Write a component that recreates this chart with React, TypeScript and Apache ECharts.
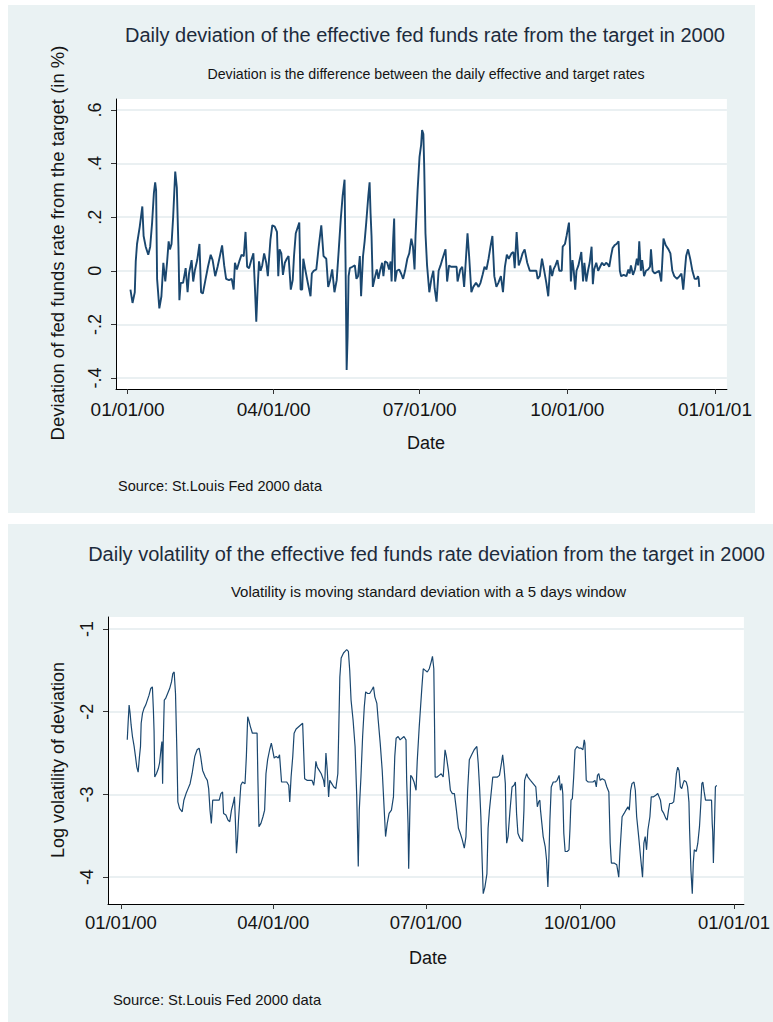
import React, { useEffect, useRef } from 'react';
import * as echarts from 'echarts';

const FONT = '"Liberation Sans", Arial, Helvetica, sans-serif';
const BG = '#eaf2f3';
const NAVY = '#1a476f';
const GRIDLINE = '#e3ebee';
const TITLE_COLOR = '#1d2b3c';
const TEXT = '#141414';

// x axis ticks (days since 01/01/2000)
const xTickDays = [0, 91, 182, 274, 366];
const xTickLabels = ['01/01/00', '04/01/00', '07/01/00', '10/01/00', '01/01/01'];

// top chart: deviation (in %)
const devYTicks = [-0.4, -0.2, 0, 0.2, 0.4, 0.6];
const devYLabels = ['-.4', '-.2', '0', '.2', '.4', '.6'];

const devDays = [
  1.8, 3.1, 4.5, 5.1, 5.9, 7.6, 9.2, 10.0, 11.3, 12.9,
  14.1, 15.3, 16.4, 17.2, 17.8, 18.4, 19.8, 21.1, 22.3, 23.5,
  24.6, 25.6, 26.4, 27.4, 28.4, 29.7, 30.7, 31.7, 32.3, 33.1,
  34.6, 36.2, 37.4, 38.3, 39.9, 40.9, 41.9, 43.4, 44.8, 45.8,
  46.9, 48.5, 50.1, 51.8, 53.0, 54.6, 56.1, 57.7, 58.9, 60.2,
  61.4, 63.2, 64.9, 66.1, 66.9, 68.1, 69.6, 71.0, 72.4, 73.5,
  74.5, 75.7, 77.1, 78.4, 79.4, 80.2, 81.0, 81.9, 82.9, 83.9,
  85.1, 86.4, 87.4, 88.4, 89.0, 90.2, 91.7, 93.1, 93.9, 94.7,
  95.8, 96.8, 98.0, 99.2, 100.3, 101.7, 102.9, 103.7, 104.8,
  107.0, 107.8, 108.8, 109.5, 110.7, 112.3, 114.0, 114.8, 116.0, 117.6,
  119.1, 120.7, 122.1, 123.8, 125.0, 126.2, 127.5, 128.9, 130.3, 131.6,
  132.8, 134.0, 135.2, 135.9, 136.5, 137.1, 137.7, 138.5, 140.1, 141.6,
  142.6, 143.6, 144.7, 145.5, 146.7, 147.7, 148.7, 150.0, 150.8, 151.4,
  152.0, 152.8, 153.9, 155.3, 156.3, 157.3, 158.6, 159.4, 160.4, 161.8,
  162.9, 163.9, 164.5, 165.5, 166.1, 166.7, 167.8, 169.2, 170.4, 171.7,
  172.9, 174.3, 175.5, 176.8, 177.8, 178.8, 179.4, 180.7, 181.9, 182.9,
  183.5, 184.3, 184.8, 185.6, 186.6, 188.0, 189.3, 190.5, 191.3, 192.5,
  193.8, 195.0, 196.2, 198.1, 199.1, 200.3, 201.5, 203.2, 205.0, 205.6,
  207.3, 208.5, 209.7, 210.5, 211.8, 212.8, 214.2, 215.4, 217.1, 218.7,
  219.9, 221.2, 222.4, 223.6, 224.9, 226.1, 227.3, 228.5, 229.8, 231.0,
  232.6, 233.9, 235.1, 236.3, 237.5, 239.2, 240.4, 241.2, 242.4, 243.7,
  244.9, 246.1, 247.4, 249.0, 250.6,
  253.1, 254.7, 255.5, 256.8, 258.2, 259.6, 260.9, 262.1, 263.3, 264.5,
  265.4, 266.6, 267.8, 269.0, 270.5, 271.1, 272.5, 273.5, 275.0, 275.6,
  276.2, 277.2, 278.0, 278.9, 279.7, 280.9, 282.7, 283.8, 284.6, 285.8,
  287.0, 287.9, 289.1, 289.9, 290.7, 292.0, 293.2, 294.4, 295.6, 296.9,
  298.1, 299.1, 300.1, 301.2, 302.2, 303.4, 304.6, 305.9, 306.7, 307.5,
  309.1, 310.8, 312.0, 312.8, 313.6, 314.9, 316.1, 317.3, 318.1, 318.8,
  319.8, 320.6, 321.8, 323.0, 324.3, 325.5, 326.1, 327.1, 328.4, 329.8,
  331.2, 332.5, 333.9, 335.3, 337.0, 338.2, 339.4, 340.6, 342.3, 343.9,
  345.1, 346.2, 347.2, 348.0, 349.2, 350.7, 351.9, 353.3, 354.6, 355.4,
  355.8, 356.2,
];
const devValues = [
  -0.07, -0.12, -0.08, 0.035, 0.10, 0.165, 0.24, 0.13, 0.09, 0.06,
  0.09, 0.18, 0.29, 0.33, 0.30, -0.03, -0.14, -0.095, 0.03, -0.04,
  0.03, 0.11, 0.08, 0.10, 0.20, 0.37, 0.31, 0.09, -0.11, -0.045,
  -0.045, 0.01, -0.08, -0.01, 0.04, -0.04, 0.0, 0.04, 0.10, -0.08,
  -0.085, -0.035, 0.015, 0.06, 0.04, -0.02, 0.015, 0.06, 0.095, 0.02,
  -0.03, -0.035, -0.03, -0.07, 0.03, 0.005, 0.035, 0.06, 0.055, 0.145,
  0.015, 0.01, 0.04, 0.065, -0.07, -0.19, -0.07, 0.035, 0.0, 0.02,
  0.065, 0.03, -0.02, 0.065, 0.115, 0.17, 0.165, 0.145, -0.02, 0.08,
  0.065, -0.015, 0.03, 0.045, 0.055, -0.07, -0.035, 0.055, 0.14,
  0.18, -0.07, -0.07, 0.045, 0.005, -0.045, -0.095, -0.01, 0.0, 0.005,
  0.09, 0.17, 0.055, 0.045, -0.06, -0.035, 0.005, -0.08, -0.035, 0.08,
  0.19, 0.28, 0.34, -0.015, -0.37, -0.245, -0.02, 0.01, 0.015, 0.02,
  -0.03, -0.02, 0.055, -0.095, 0.055, 0.11, 0.18, 0.28, 0.33, 0.215,
  0.13, -0.06, -0.03, 0.005, -0.03, 0.0, 0.03, -0.02, 0.035, 0.03,
  0.005, 0.035, -0.04, 0.12, 0.195, -0.04, 0.0, 0.005, -0.01, -0.03,
  0.0, 0.045, 0.065, 0.12, 0.09, 0.005, 0.13, 0.30, 0.425, 0.47,
  0.525, 0.51, 0.395, 0.14, 0.02, -0.08, -0.03, 0.0, -0.065, -0.115,
  0.0, 0.02, 0.045, 0.08, -0.04, 0.02, 0.015, 0.015, 0.015, -0.04,
  0.005, 0.015, -0.06, 0.015, 0.14, 0.055, -0.08, -0.06, -0.045, -0.06,
  -0.045, -0.015, 0.015, 0.005, 0.045, 0.09, 0.13, -0.02, -0.06, -0.045,
  -0.02, -0.08, 0.015, 0.06, 0.045, 0.065, 0.07, 0.01, 0.145, 0.02,
  0.04, 0.065, 0.08, 0.03, 0.0,
  0.0, 0.0, -0.03, -0.02, 0.045, 0.0, -0.045, -0.095, 0.02, -0.02,
  0.005, 0.02, 0.04, 0.0, 0.0, 0.09, 0.10, 0.13, 0.18, 0.09,
  -0.04, 0.04, 0.0, -0.07, 0.0, 0.02, 0.07, -0.04, 0.03, -0.04,
  0.005, 0.03, 0.09, -0.05, 0.005, 0.03, 0.0, 0.015, 0.03, 0.02,
  0.03, 0.025, 0.015, 0.055, 0.085, 0.095, 0.10, 0.11, 0.0, -0.02,
  -0.015, -0.02, 0.005, -0.01, 0.02, -0.015, 0.005, 0.045, 0.02, 0.11,
  0.0, 0.04, -0.02, 0.0, 0.005, 0.015, 0.08, 0.0, -0.01, -0.005,
  0.0, -0.04, 0.12, 0.095, 0.08, 0.065, 0.0, -0.02, -0.03, -0.02,
  -0.01, -0.07, 0.0, 0.055, 0.08, 0.04, 0.0, -0.03, -0.03, -0.02,
  -0.03, -0.06,
];

// bottom chart: log volatility
const volYTicks = [-4, -3, -2, -1];
const volYLabels = ['-4', '-3', '-2', '-1'];

const volDays = [
  3.8, 4.3, 4.9, 5.5, 6.1, 6.9, 7.9, 8.7, 9.5, 10.3,
  11.1, 11.7, 12.1, 12.9, 13.8, 14.8, 15.8, 16.8, 17.8, 18.8,
  19.4, 19.8, 20.2, 21.2, 22.3, 23.1, 23.9, 24.5, 24.9, 25.3,
  25.9, 26.7, 27.9, 29.1, 30.2, 31.0, 31.8, 32.6, 33.4, 34.0,
  35.0, 36.6, 37.6, 38.9, 40.1, 41.3, 42.5, 44.1, 45.5, 46.7,
  47.6, 48.8, 50.4, 51.6, 52.4, 53.2, 54.0, 54.8, 56.1, 58.7,
  59.7, 60.7, 61.3, 62.7, 63.9, 65.0, 66.0, 67.0, 67.8, 68.4,
  69.0, 69.6, 70.2, 71.0, 71.6, 72.6, 74.1, 74.9, 75.7, 76.3,
  77.3, 78.5, 81.3, 81.8, 82.4, 83.6, 84.8, 85.8, 86.6, 87.6,
  88.8, 89.8, 90.4, 91.5, 92.7, 93.9, 94.7, 95.9, 97.5, 99.0,
  100.2, 100.8, 101.6, 102.6, 103.4, 104.6,
  108.5, 109.7, 111.1, 114.1, 115.1, 115.7, 116.4, 117.2, 118.4, 119.6,
  121.0, 121.6, 122.4, 123.2, 124.0, 124.7, 125.9, 127.1, 128.3, 129.5,
  130.1, 130.7, 131.5, 132.9, 133.8, 134.8, 135.8, 136.6, 137.4, 138.6,
  139.8, 140.8, 141.7, 142.3, 143.3, 144.3, 145.3, 146.1, 147.3, 148.5,
  149.7, 150.8, 151.6, 152.8, 153.6, 154.8, 156.0, 157.2, 158.0, 159.0,
  160.1, 161.5, 162.7, 163.5, 164.3, 165.5, 166.7, 167.8, 169.0, 170.2,
  170.6, 171.4, 171.8, 172.4, 173.0, 173.8, 175.0, 176.2, 176.9, 178.1,
  178.9, 179.7, 180.5, 181.7, 182.9, 184.1, 185.2, 186.0, 186.8, 187.2,
  187.6, 188.8, 190.0, 191.2, 192.4, 193.5, 194.3, 195.5, 196.7, 197.9,
  199.1, 200.3, 201.5, 202.6, 203.8, 205.0, 206.0, 207.0, 208.0, 209.4,
  210.9, 212.5, 213.3, 214.1, 214.9, 215.7, 216.3, 217.3, 218.5, 219.2,
  220.0, 220.8, 222.0, 224.8, 226.0, 227.2, 227.9, 228.7, 229.5, 229.9,
  230.3, 231.1, 232.3, 233.5, 234.7, 235.5, 236.2, 237.0, 238.2, 239.8,
  240.6, 241.0, 242.2, 243.0, 244.5, 246.1, 247.7,
  248.6, 249.4, 250.1, 250.5, 251.3, 252.1, 253.3, 254.1, 254.9, 255.5,
  256.1, 256.9, 258.1, 259.4, 260.4, 261.6, 262.4, 263.2, 263.8, 264.4,
  265.2, 266.4, 267.5, 268.1, 268.7, 269.5, 270.3, 271.1, 272.3, 273.5,
  274.7, 275.8, 276.6, 277.0, 277.8, 279.0, 280.2, 281.8, 283.0, 283.8,
  284.5, 285.3, 286.1, 287.3, 288.9, 290.1, 291.3, 292.1, 292.8, 294.4,
  296.0, 297.2, 298.0, 299.2, 300.4, 301.5, 302.7, 303.5, 304.3, 305.1,
  306.3, 307.1, 307.9, 309.1, 310.2, 311.4, 312.2, 313.0, 313.8, 314.6,
  315.8, 316.6, 317.8, 319.3, 320.5, 321.3, 322.1, 322.9, 324.1, 325.3,
  326.1, 326.9, 327.6, 328.8, 330.0, 330.8, 331.6, 332.4, 333.2, 334.0,
  334.8, 335.6, 336.3, 337.5, 338.3, 339.1, 339.5, 340.3, 341.1, 341.7,
  342.3, 343.5, 344.4, 345.4, 346.2, 346.8, 347.4, 348.2, 349.0, 350.2,
  351.4, 352.6, 353.0, 353.3, 353.7, 354.3, 354.9, 355.7,
];
const volValues = [
  -2.34, -2.14, -1.92, -2.02, -2.16, -2.30, -2.42, -2.54, -2.67, -2.73,
  -2.54, -2.42, -2.14, -2.02, -1.96, -1.92, -1.86, -1.80, -1.72, -1.70,
  -1.98, -2.24, -2.79, -2.75, -2.69, -2.62, -2.46, -2.36, -2.87, -2.34,
  -1.86, -1.84, -1.78, -1.72, -1.64, -1.54, -1.52, -1.78, -2.46, -3.09,
  -3.17, -3.21, -3.07, -2.99, -2.93, -2.87, -2.75, -2.54, -2.46, -2.44,
  -2.54, -2.71, -2.79, -2.83, -2.93, -3.19, -3.35, -3.07, -3.07, -3.07,
  -2.99, -2.97, -3.23, -3.25, -3.31, -3.33, -3.19, -3.11, -3.03, -3.35,
  -3.71, -3.55, -3.31, -3.07, -2.89, -2.85, -2.87, -2.54, -2.06, -2.10,
  -2.18, -2.26, -2.26, -2.83, -3.39, -3.35, -3.27, -3.19, -2.75, -2.58,
  -2.46, -2.38, -2.44, -2.56, -2.54, -2.56, -2.52, -2.85, -2.85, -2.85,
  -2.89, -3.09, -2.79, -2.54, -2.26, -2.21,
  -2.14, -2.81, -2.83, -2.83, -2.89, -2.79, -2.60, -2.67, -2.71, -2.75,
  -2.83, -2.91, -2.50, -2.71, -3.03, -2.83, -2.87, -2.91, -2.93, -2.75,
  -2.18, -1.58, -1.35, -1.29, -1.27, -1.25, -1.27, -1.50, -1.86, -2.10,
  -2.42, -3.03, -3.87, -3.19, -2.79, -2.30, -1.94, -1.76, -1.78, -1.78,
  -1.74, -1.70, -1.82, -1.90, -2.10, -2.38, -2.71, -3.19, -3.51, -3.35,
  -3.23, -3.19, -3.03, -2.54, -2.32, -2.30, -2.34, -2.32, -2.30, -2.34,
  -2.83, -3.35, -3.90, -3.31, -2.77, -2.79, -2.85, -2.95, -2.60, -2.18,
  -1.94, -1.70, -1.48, -1.50, -1.52, -1.48, -1.40, -1.33, -1.48, -2.10,
  -2.79, -2.79, -2.77, -2.75, -2.79, -2.46, -2.54, -2.71, -2.95, -2.99,
  -2.99, -3.19, -3.41, -3.47, -3.55, -3.65, -3.51, -2.95, -2.58, -2.52,
  -2.46, -2.42, -2.62, -2.91, -3.27, -3.83, -4.20, -4.12, -3.96, -3.41,
  -3.19, -3.03, -2.79, -2.79, -2.77, -2.62, -2.52, -2.67, -2.87, -3.35,
  -3.59, -3.51, -3.19, -2.91, -2.89, -2.85, -3.23, -3.47, -3.53, -3.57,
  -3.19, -2.83, -2.75, -2.79, -2.83, -2.87, -2.91,
  -3.15, -3.09, -3.07, -3.19, -3.35, -3.51, -3.63, -3.79, -4.12, -3.77,
  -3.31, -2.91, -2.85, -2.85, -2.83, -2.77, -2.95, -2.87, -2.99, -3.47,
  -3.69, -3.69, -3.67, -3.41, -3.07, -3.05, -2.79, -2.46, -2.42, -2.44,
  -2.44, -2.46, -2.34, -2.38, -2.83, -2.85, -2.85, -2.85, -2.83, -2.91,
  -2.77, -2.75, -2.83, -2.81, -2.83, -2.91, -2.97, -3.59, -3.83, -3.83,
  -3.85, -4.0, -3.67, -3.27, -3.23, -3.19, -3.15, -3.19, -2.95, -2.87,
  -2.85, -2.95, -3.27, -3.51, -3.75, -4.0, -3.59, -3.51, -3.67, -3.43,
  -3.27, -3.03, -3.03, -3.01, -2.99, -3.03, -3.07, -3.19, -3.23, -3.29,
  -3.31, -3.19, -3.11, -3.11, -3.09, -2.95, -2.75, -2.67, -2.71, -2.91,
  -2.93, -2.87, -2.83, -2.85, -2.91, -3.09, -3.43, -3.92, -4.20, -3.83,
  -3.67, -3.69, -3.59, -3.39, -3.11, -2.87, -2.85, -2.97, -3.07, -3.07,
  -3.07, -3.07, -3.35, -3.45, -3.83, -3.39, -2.91, -2.89,
];

const TOP_TITLE = 'Daily deviation of the effective fed funds rate from the target in 2000';
const TOP_SUBTITLE = 'Deviation is the difference between the daily effective and target rates';
const TOP_YNAME = 'Deviation of fed funds rate from the target (in %)';
const BOTTOM_TITLE = 'Daily volatility of the effective fed funds rate deviation from the target in 2000';
const BOTTOM_SUBTITLE = 'Volatility is moving standard deviation with a 5 days window';
const BOTTOM_YNAME = 'Log volatility of deviation';
const XNAME = 'Date';
const SOURCE = 'Source: St.Louis Fed 2000 data';

const zip = (xs: number[], ys: number[]) => xs.map((x, i) => [x, ys[i]]);
const lookup = (ticks: number[], labels: string[]) => (v: number) => {
  const i = ticks.findIndex((t) => Math.abs(t - v) < 1e-9);
  return i >= 0 ? labels[i] : '';
};

function txt(text: string, x: number, y: number, size: number, opts: any = {}) {
  return {
    type: 'text',
    x,
    y,
    rotation: opts.rotation || 0,
    silent: true,
    style: {
      text,
      fontSize: size,
      fontFamily: FONT,
      fill: opts.color || TEXT,
      align: opts.align || 'center',
      verticalAlign: 'middle',
    },
  };
}

function buildOption(p: any) {
  return {
    animation: false,
    backgroundColor: BG,
    grid: {
      left: p.grid[0], top: p.grid[1], right: p.grid[2], bottom: p.grid[3],
      show: true, backgroundColor: '#ffffff', borderWidth: 0,
    },
    xAxis: {
      type: 'value',
      min: p.xMin,
      max: p.xMax,
      axisLine: { onZero: false, lineStyle: { color: '#000', width: 1 } },
      axisTick: { customValues: xTickDays, length: 5, lineStyle: { color: '#333', width: 1 } },
      axisLabel: {
        customValues: xTickDays,
        formatter: lookup(xTickDays, xTickLabels),
        fontSize: p.xLabelSize,
        fontFamily: FONT,
        color: TEXT,
        margin: p.xLabelMargin,
      },
      splitLine: { show: false },
    },
    yAxis: {
      type: 'value',
      min: p.yMin,
      max: p.yMax,
      axisLine: { show: true, onZero: false, lineStyle: { color: '#000', width: 1 } },
      axisTick: { show: true, customValues: p.yTicks, length: 5, lineStyle: { color: '#333', width: 1 } },
      axisLabel: {
        customValues: p.yTicks,
        formatter: lookup(p.yTicks, p.yLabels),
        rotate: 90,
        fontSize: 18,
        fontFamily: FONT,
        color: TEXT,
        margin: p.yLabelMargin,
      },
      splitLine: { show: true, lineStyle: { color: GRIDLINE, width: 1.5 } },
    },
    series: [
      {
        type: 'line',
        data: zip(p.days, p.values),
        showSymbol: false,
        symbol: 'none',
        lineStyle: { color: NAVY, width: p.lineWidth },
        itemStyle: { color: NAVY },
        silent: true,
      },
    ],
    graphic: p.graphic,
  };
}

const topOption = buildOption({
  grid: [108, 94, 19, 124],
  xMin: -7.2, xMax: 373.4,
  yMin: -0.441, yMax: 0.641,
  yTicks: devYTicks, yLabels: devYLabels,
  xLabelSize: 19, xLabelMargin: 11, yLabelMargin: 12,
  days: devDays, values: devValues, lineWidth: 1.9,
  graphic: [
    txt(TOP_TITLE, 417, 30, 20, { color: TITLE_COLOR }),
    txt(TOP_SUBTITLE, 418, 69, 14.2),
    txt(TOP_YNAME, 49, 238, 18.5, { rotation: Math.PI / 2 }),
    txt(XNAME, 418, 438, 18),
    txt(SOURCE, 110, 481, 14.5, { align: 'left' }),
  ],
});

const bottomOption = buildOption({
  grid: [100, 93, 25, 118],
  xMin: -7.7, xMax: 371.9,
  yMin: -4.325, yMax: -0.855,
  yTicks: volYTicks, yLabels: volYLabels,
  xLabelSize: 18.5, xLabelMargin: 9, yLabelMargin: 12,
  days: volDays, values: volValues, lineWidth: 1.2,
  graphic: [
    txt(BOTTOM_TITLE, 418.5, 30, 20, { color: TITLE_COLOR }),
    txt(BOTTOM_SUBTITLE, 420.5, 67, 15),
    txt(BOTTOM_YNAME, 50, 236, 18, { rotation: Math.PI / 2 }),
    txt(XNAME, 420, 434, 18),
    txt(SOURCE, 105, 476, 14.8, { align: 'left' }),
  ],
});

function Chart({ option, style }: { option: any; style: React.CSSProperties }) {
  const ref = useRef<HTMLDivElement>(null);
  useEffect(() => {
    if (!ref.current) return;
    const chart = echarts.init(ref.current, null, { renderer: 'svg' });
    chart.setOption(option);
    return () => chart.dispose();
  }, [option]);
  return <div ref={ref} style={style} />;
}

export default function App() {
  return (
    <div>
      <Chart option={topOption} style={{ position: 'absolute', left: 8, top: 5, width: 747, height: 508 }} />
      <Chart option={bottomOption} style={{ position: 'absolute', left: 8, top: 524, width: 765, height: 498 }} />
    </div>
  );
}
